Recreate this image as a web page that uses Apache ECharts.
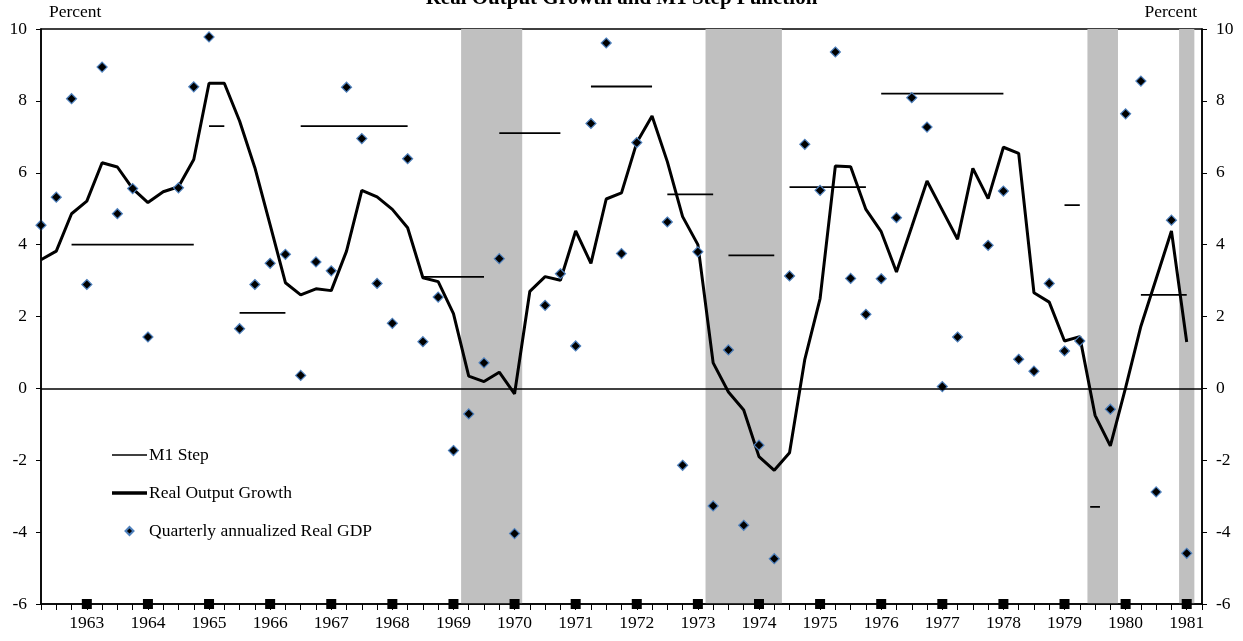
<!DOCTYPE html>
<html>
<head>
<meta charset="utf-8">
<title>Real Output Growth and M1 Step Function</title>
<script src="https://cdn.jsdelivr.net/npm/echarts@6/dist/echarts.min.js"></script>
<style>
  html, body { margin: 0; padding: 0; background: #fff; }
  #chart { width: 1243px; height: 641px; }
</style>
</head>
<body>
<div id="chart"></div>
<script>
// quarterly positions, 1962Q2 .. 1981Q1 (decimal years)
const quarters = [];
for (let q = 1962.25; q <= 1981.001; q += 0.25) quarters.push(Math.round(q * 100) / 100);

// Real output growth (thick line), one value per quarter
const growth = [
  3.58, 3.82, 4.86,
  5.21, 6.28, 6.16, 5.56,   // 1963
  5.17, 5.47, 5.61, 6.37,   // 1964
  8.49, 8.49, 7.44, 6.14,   // 1965
  4.55, 2.94, 2.60, 2.77,   // 1966
  2.72, 3.82, 5.51, 5.33,   // 1967
  4.98, 4.47, 3.08, 2.97,   // 1968
  2.08, 0.34, 0.19, 0.45,   // 1969
  -0.15, 2.70, 3.11, 3.01,  // 1970
  4.38, 3.48, 5.27, 5.44,   // 1971
  6.84, 7.58, 6.31, 4.78,   // 1972
  4.00, 0.71, -0.10, -0.60, // 1973
  -1.90, -2.28, -1.79, 0.81,// 1974
  2.50, 6.19, 6.17, 4.98,   // 1975
  4.36, 3.24, 4.50, 5.77,   // 1976
  4.96, 4.15, 6.12, 5.28,   // 1977
  6.71, 6.54, 2.66, 2.40,   // 1978
  1.32, 1.44, -0.75, -1.60, // 1979
  0.02, 1.73, 3.05, 4.38,   // 1980
  1.29                      // 1981
];

// Quarterly annualized real GDP (diamonds), null = no point shown
const gdp = [
  4.54, 5.32, 8.06,
  2.89, 8.94, 4.86, 5.56,
  1.43, null, 5.58, 8.39,
  9.78, null, 1.66, 2.89,
  3.48, 3.73, 0.36, 3.52,
  3.27, 8.38, 6.95, 2.92,
  1.81, 6.39, 1.30, 2.54,
  -1.73, -0.71, 0.71, 3.61,
  -4.04, null, 2.31, 3.19,
  1.18, 7.37, 9.61, 3.75,
  6.84, null, 4.63, -2.14,
  3.80, -3.27, 1.07, -3.81,
  -1.58, -4.74, 3.13, 6.79,
  5.51, 9.36, 3.06, 2.06,
  3.05, 4.75, 8.09, 7.27,
  0.05, 1.43, null, 3.98,
  5.49, 0.81, 0.48, 2.92,
  1.04, 1.32, null, -0.58,
  7.64, 8.55, -2.88, 4.68,
  -4.59
];

// M1 step function segments
const m1Start = [1962.75, 1965.0, 1965.5, 1966.5, 1968.5, 1969.75, 1971.25, 1972.5, 1973.5, 1974.5, 1976.0, 1979.0, 1979.42, 1980.25];
const m1End   = [1964.75, 1965.25, 1966.25, 1968.25, 1969.5, 1970.75, 1972.25, 1973.25, 1974.25, 1975.75, 1978.0, 1979.25, 1979.58, 1981.0];
const m1Value = [4.0, 7.3, 2.1, 7.3, 3.1, 7.1, 8.4, 5.4, 3.7, 5.6, 8.2, 5.1, -3.3, 2.6];

// recession bands
const recessionStart = [1969.125, 1973.125, 1979.375, 1980.875];
const recessionEnd   = [1970.125, 1974.375, 1979.875, 1981.125];

const years = [1963, 1964, 1965, 1966, 1967, 1968, 1969, 1970, 1971, 1972, 1973, 1974, 1975, 1976, 1977, 1978, 1979, 1980, 1981];

const FONT = "'Liberation Serif', 'Times New Roman', serif";
const FS = 17.5;

const m1Data = [];
m1Start.forEach((s, i) => {
  m1Data.push([s, m1Value[i]], [m1End[i], m1Value[i]], [m1End[i], '-']);
});

const chart = echarts.init(document.getElementById('chart'));

const yAxisBase = {
  type: 'value',
  min: -6,
  max: 10,
  interval: 2,
  axisLine: { show: true, lineStyle: { color: '#000', width: 1.5 } },
  axisTick: { show: true, length: 5, lineStyle: { color: '#000' } },
  axisLabel: { color: '#000', fontFamily: FONT, fontSize: FS, margin: 14 },
  splitLine: { show: false },
  z: 5
};

chart.setOption({
  animation: false,
  backgroundColor: '#fff',
  textStyle: { fontFamily: FONT },
  grid: { left: 41, right: 41, top: 29, bottom: 37, show: true, borderColor: '#000', borderWidth: 1.5 },
  graphic: [
    { type: 'text', left: 'center', top: -12, style: { text: 'Real Output Growth and M1 Step Function', font: 'bold 21px ' + FONT, fill: '#000' } },
    { type: 'text', left: 49, top: 3, style: { text: 'Percent', font: FS + 'px ' + FONT, fill: '#000' } },
    { type: 'text', right: 46, top: 3, style: { text: 'Percent', font: FS + 'px ' + FONT, fill: '#000' } }
  ],
  legend: {
    orient: 'vertical',
    left: 107,
    top: 441,
    itemWidth: 35,
    itemHeight: 8,
    itemGap: 20,
    symbolKeepAspect: true,
    data: [
      { name: 'M1 Step', icon: 'path://M0,0L35,0L35,1.6L0,1.6Z' },
      { name: 'Real Output Growth', icon: 'path://M0,0L35,0L35,3.4L0,3.4Z' },
      { name: 'Quarterly annualized Real GDP', icon: 'path://M0,-1L1,0L0,1L-1,0Z' }
    ],
    textStyle: { color: '#000', fontFamily: FONT, fontSize: FS, lineHeight: 18, padding: [0, 0, 0, -3] }
  },
  xAxis: {
    type: 'value',
    min: 1962.25,
    max: 1981.25,
    interval: 0.25,
    axisLine: { show: true, onZero: false, lineStyle: { color: '#000', width: 1.5 } },
    axisTick: { show: true, length: 6, lineStyle: { color: '#000' } },
    axisLabel: {
      color: '#000', fontFamily: FONT, fontSize: FS, margin: 10,
      formatter: v => Math.abs(v - Math.round(v)) < 1e-6 ? String(Math.round(v)) : ''
    },
    splitLine: { show: false },
    z: 5
  },
  yAxis: [
    Object.assign({}, yAxisBase, { position: 'left' }),
    Object.assign({}, yAxisBase, { position: 'right' })
  ],
  series: [
    {
      name: 'recessions',
      type: 'line',
      data: [],
      z: 1,
      silent: true,
      markArea: {
        silent: true,
        itemStyle: { color: '#c0c0c0' },
        data: recessionStart.map((s, i) => [{ xAxis: s }, { xAxis: recessionEnd[i] }])
      }
    },
    {
      name: 'M1 Step',
      type: 'line',
      data: m1Data,
      symbol: 'none',
      connectNulls: false,
      lineStyle: { color: '#000', width: 1.8 },
      itemStyle: { color: '#000' },
      z: 3,
      markLine: {
        silent: true,
        symbol: 'none',
        label: { show: false },
        lineStyle: { color: '#000', width: 1.5, type: 'solid' },
        data: [{ yAxis: 0 }]
      }
    },
    {
      name: 'Real Output Growth',
      type: 'line',
      data: quarters.map((q, i) => [q, growth[i]]),
      symbol: 'none',
      lineStyle: { color: '#000', width: 3 },
      itemStyle: { color: '#000' },
      z: 3
    },
    {
      name: 'Quarterly annualized Real GDP',
      type: 'scatter',
      data: quarters.map((q, i) => [q, gdp[i]]).filter(d => d[1] !== null),
      symbol: 'diamond',
      symbolSize: 10,
      itemStyle: { color: '#000', borderColor: '#4f81bd', borderWidth: 1.2, opacity: 1 },
      z: 4
    },
    {
      name: 'years',
      type: 'scatter',
      data: years.map(y => [y, -6]),
      symbol: 'rect',
      symbolSize: 10,
      clip: false,
      silent: true,
      itemStyle: { color: '#000', opacity: 1 },
      z: 6
    }
  ]
});
</script>
</body>
</html>
